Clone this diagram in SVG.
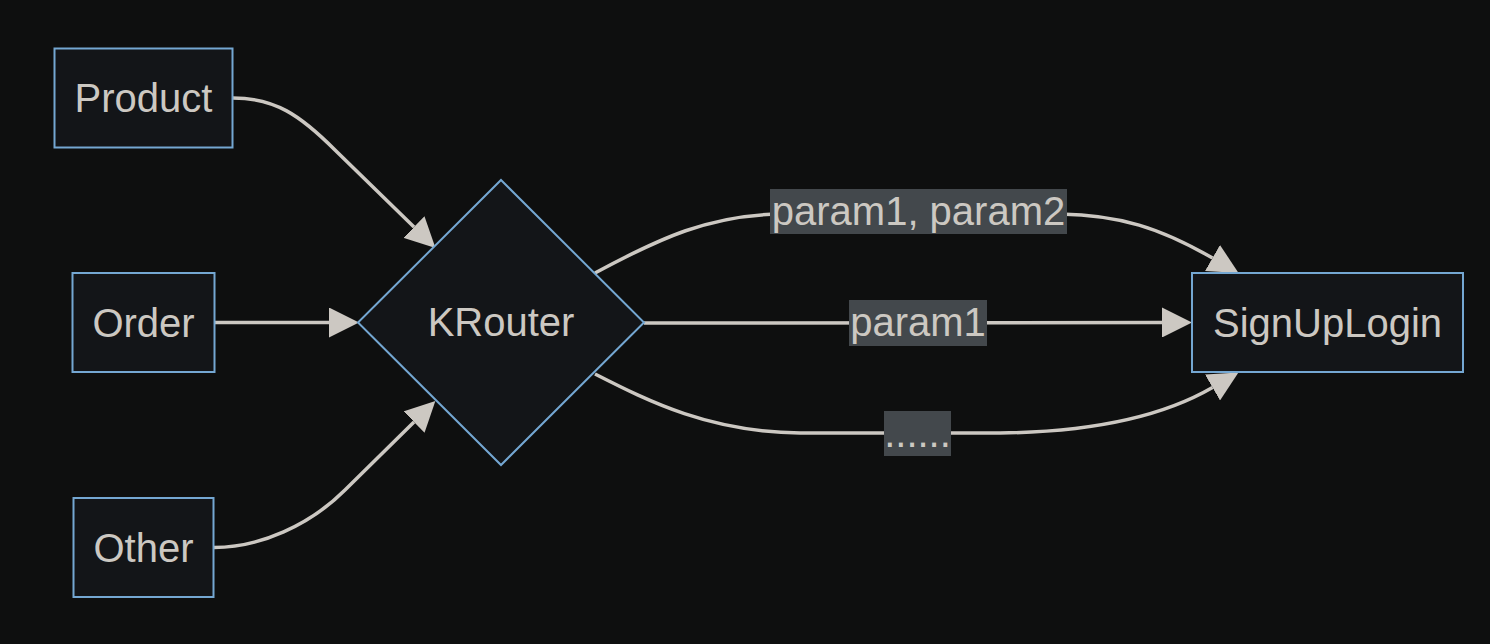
<svg xmlns="http://www.w3.org/2000/svg" width="1490" height="644" viewBox="0 0 1490 644">
<style>
.bg{fill:#0e0f0f}
.node{fill:#131518;stroke:#74a7d2;stroke-width:2}
.txt{font-family:"Liberation Sans",Arial,sans-serif;font-size:40px;fill:#ccc8c2;text-anchor:middle}
.edge{fill:none;stroke:#ccc8c2;stroke-width:3.5}
.lbl{fill:#43484c}
</style>
<defs>
<marker id="arrow" markerUnits="userSpaceOnUse" markerWidth="30" markerHeight="30" refX="0" refY="15" orient="auto" viewBox="0 0 30 30">
<path d="M0,0 L30,15 L0,30 z" fill="#ccc8c2"/>
</marker>
</defs>
<rect class="bg" x="0" y="0" width="1490" height="644"/>
<g id="connectors">
<path class="edge" d="M233,98 C275,98 300,115 335,150 L414,227" marker-end="url(#arrow)"/>
<path class="edge" d="M215,322.5 L329,322.5" marker-end="url(#arrow)"/>
<path class="edge" d="M214,547.5 C260,547.5 310,525 345,490 L414,422" marker-end="url(#arrow)"/>
<path class="edge" d="M595,273 C660,238 710,215 780,214 L1060,214 C1120,215 1160,228 1212.5,258" marker-end="url(#arrow)"/>
<path class="edge" d="M644,323 L1162,322.5" marker-end="url(#arrow)"/>
<path class="edge" d="M595,374 C650,402 710,432 800,433 L1000,433 C1090,432 1160,418 1212.5,387.5" marker-end="url(#arrow)"/>
<g id="label-top">
<rect class="lbl" x="770" y="189" width="297" height="45"/>
<text class="txt" x="918.5" y="225">param1, param2</text>
</g>
<g id="label-mid">
<rect class="lbl" x="849" y="300" width="138" height="46"/>
<text class="txt" x="918" y="336">param1</text>
</g>
<g id="label-bot">
<rect class="lbl" x="884" y="411" width="67" height="45"/>
<text class="txt" x="917.5" y="447">......</text>
</g>
</g>
<g id="node-product">
<rect class="node" x="54.5" y="48.5" width="178" height="99"/>
<text class="txt" x="143.5" y="112">Product</text>
</g>
<g id="node-order">
<rect class="node" x="72.5" y="273" width="142" height="99"/>
<text class="txt" x="143.5" y="336.5">Order</text>
</g>
<g id="node-other">
<rect class="node" x="73.5" y="498" width="140" height="99"/>
<text class="txt" x="143.5" y="561.5">Other</text>
</g>
<g id="node-krouter">
<polygon class="node" points="501,180 644,322.5 501,465 358,322.5"/>
<text class="txt" x="501" y="336">KRouter</text>
</g>
<g id="node-signuplogin">
<rect class="node" x="1192" y="273" width="271" height="99"/>
<text class="txt" x="1327.5" y="336.5">SignUpLogin</text>
</g>
</svg>
